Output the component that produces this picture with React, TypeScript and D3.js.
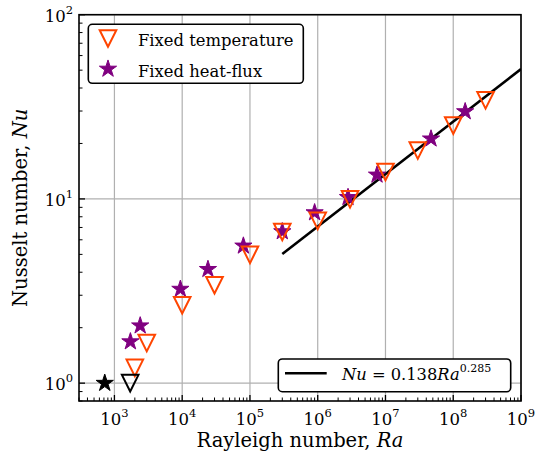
import React from "react";
import * as d3 from "d3";

// fixed temperature runs (open triangles)
const tempRa = [2000, 3000, 1e4, 3e4, 1e5, 3e5, 1e6, 3e6, 1e7, 3e7, 1e8, 3e8];
const tempNu = [1.21, 1.65, 2.65, 3.4, 4.97, 6.62, 7.6, 9.95, 14.0, 18.3, 25.0, 34.3];

// fixed heat-flux runs (stars)
const fluxRa = [1720, 2400, 9400, 2.4e4, 8e4, 3e5, 9e5, 2.8e6, 7.5e6, 4.7e7, 1.5e8];
const fluxNu = [1.68, 2.05, 3.24, 4.15, 5.56, 6.65, 8.43, 10.2, 13.5, 21.2, 29.8];

// onset of convection (black markers)
const onsetStarRa = [720];
const onsetTriRa = [1708];
const onsetNu = [1];

// power-law fit
const fitA = 0.138;
const fitB = 0.285;
const fitRa = [3e5, 1e9];

const xTicks = [1e3, 1e4, 1e5, 1e6, 1e7, 1e8, 1e9];
const yTicks = [1, 10, 100];

const width = 535,
  height = 459,
  left = 79,
  right = 521,
  top = 14.7,
  bottom = 401;

const FONT = "'DejaVu Serif', 'Liberation Serif', serif";
const ORANGE = "#ff4500";
const PURPLE = "#800080";

const x = d3.scaleLog().domain([300, 1e9]).range([left, right]);
const y = d3.scaleLog().domain([0.8, 100]).range([bottom, top]);

const tri = (h: number) => `M0,${h}L${-h},${-h}L${h},${-h}Z`;
const star = d3.symbol(d3.symbolStar, 92)()!;

const minorX: number[] = [];
for (let e = 2; e <= 8; e++) {
  for (let m = 2; m <= 9; m++) {
    const v = m * Math.pow(10, e);
    if (v >= 300 && v <= 1e9) minorX.push(v);
  }
}
const minorY: number[] = [0.8, 0.9];
for (let e = 0; e <= 1; e++) {
  for (let m = 2; m <= 9; m++) minorY.push(m * Math.pow(10, e));
}

const Pow10 = ({ v }: { v: number }) => (
  <>
    10
    <tspan dy={-8} fontSize={11.5}>
      {Math.round(Math.log10(v))}
    </tspan>
  </>
);

const App = () => {
  const line = d3
    .line<number>()
    .x(d => x(d))
    .y(d => y(fitA * Math.pow(d, fitB)));

  return (
    <svg
      width={width}
      height={height}
      style={{ position: "absolute", left: 0, top: 0, background: "#fff" }}
      fontFamily={FONT}
    >
      <defs>
        <clipPath id="plot">
          <rect x={left} y={top} width={right - left} height={bottom - top} />
        </clipPath>
      </defs>

      {/* grid */}
      <g stroke="#b0b0b0" strokeWidth={1.2}>
        {xTicks.map(t => (
          <line key={t} x1={x(t)} x2={x(t)} y1={top} y2={bottom} />
        ))}
        {yTicks.map(t => (
          <line key={t} x1={left} x2={right} y1={y(t)} y2={y(t)} />
        ))}
      </g>

      <g clipPath="url(#plot)">
        <path d={line(fitRa)!} fill="none" stroke="#000" strokeWidth={2.6} />

        {fluxRa.map((r, i) => (
          <path
            key={"f" + i}
            d={star}
            transform={`translate(${x(r)},${y(fluxNu[i])})`}
            fill={PURPLE}
            stroke={PURPLE}
            strokeWidth={1}
          />
        ))}
        {tempRa.map((r, i) => (
          <path
            key={"t" + i}
            d={tri(8.3)}
            transform={`translate(${x(r)},${y(tempNu[i])})`}
            fill="none"
            stroke={ORANGE}
            strokeWidth={2}
          />
        ))}
        {onsetStarRa.map((r, i) => (
          <path
            key={"os" + i}
            d={star}
            transform={`translate(${x(r)},${y(onsetNu[0])})`}
            fill="#000"
            stroke="#000"
            strokeWidth={1}
          />
        ))}
        {onsetTriRa.map((r, i) => (
          <path
            key={"ot" + i}
            d={tri(8.3)}
            transform={`translate(${x(r)},${y(onsetNu[0])})`}
            fill="none"
            stroke="#000"
            strokeWidth={2}
          />
        ))}
      </g>

      {/* ticks, inward */}
      <g stroke="#000">
        {xTicks.map(t => (
          <line key={t} x1={x(t)} x2={x(t)} y1={bottom} y2={bottom - 6} strokeWidth={1.3} />
        ))}
        {minorX.map(t => (
          <line key={t} x1={x(t)} x2={x(t)} y1={bottom} y2={bottom - 3.5} strokeWidth={1} />
        ))}
        {yTicks.map(t => (
          <line key={t} x1={left} x2={left + 6} y1={y(t)} y2={y(t)} strokeWidth={1.3} />
        ))}
        {minorY.map(t => (
          <line key={t} x1={left} x2={left + 3.5} y1={y(t)} y2={y(t)} strokeWidth={1} />
        ))}
      </g>

      {/* frame */}
      <rect
        x={left}
        y={top}
        width={right - left}
        height={bottom - top}
        fill="none"
        stroke="#000"
        strokeWidth={1.6}
      />

      {/* tick labels */}
      <g fontSize={16.5} fill="#000">
        {xTicks.map(t => (
          <text key={t} x={x(t)} y={bottom + 24} textAnchor="middle">
            <Pow10 v={t} />
          </text>
        ))}
        {yTicks.map(t => (
          <text key={t} x={left - 6} y={y(t) + 7} textAnchor="end">
            <Pow10 v={t} />
          </text>
        ))}
      </g>

      {/* axis titles */}
      <text x={(left + right) / 2} y={447} textAnchor="middle" fontSize={19.5}>
        Rayleigh number, <tspan fontStyle="italic">Ra</tspan>
      </text>
      <text
        transform={`translate(27,${(top + bottom) / 2}) rotate(-90)`}
        textAnchor="middle"
        fontSize={19.5}
      >
        Nusselt number, <tspan fontStyle="italic">Nu</tspan>
      </text>

      {/* legend: markers */}
      <g>
        <rect x={88.3} y={24.3} width={215} height={59} rx={4} fill="#fff" stroke="#000" strokeWidth={1.6} />
        <path d={tri(8.3)} transform="translate(108,38.5)" fill="none" stroke={ORANGE} strokeWidth={2} />
        <path d={star} transform="translate(108,69)" fill={PURPLE} stroke={PURPLE} strokeWidth={1} />
        <text x={138} y={46} fontSize={16.4}>
          Fixed temperature
        </text>
        <text x={138} y={77} fontSize={16.4}>
          Fixed heat-flux
        </text>
      </g>

      {/* legend: fit */}
      <g>
        <rect x={278.3} y={359} width={232.4} height={32.7} rx={4} fill="#fff" stroke="#000" strokeWidth={1.6} />
        <line x1={285} x2={326.7} y1={373.3} y2={373.3} stroke="#000" strokeWidth={2.6} />
        <text x={342} y={380} fontSize={16.3}>
          <tspan fontStyle="italic">Nu</tspan> = 0.138<tspan fontStyle="italic">Ra</tspan>
          <tspan dy={-8} fontSize={11}>
            {fitB.toFixed(3)}
          </tspan>
        </text>
      </g>
    </svg>
  );
};

export default App;
